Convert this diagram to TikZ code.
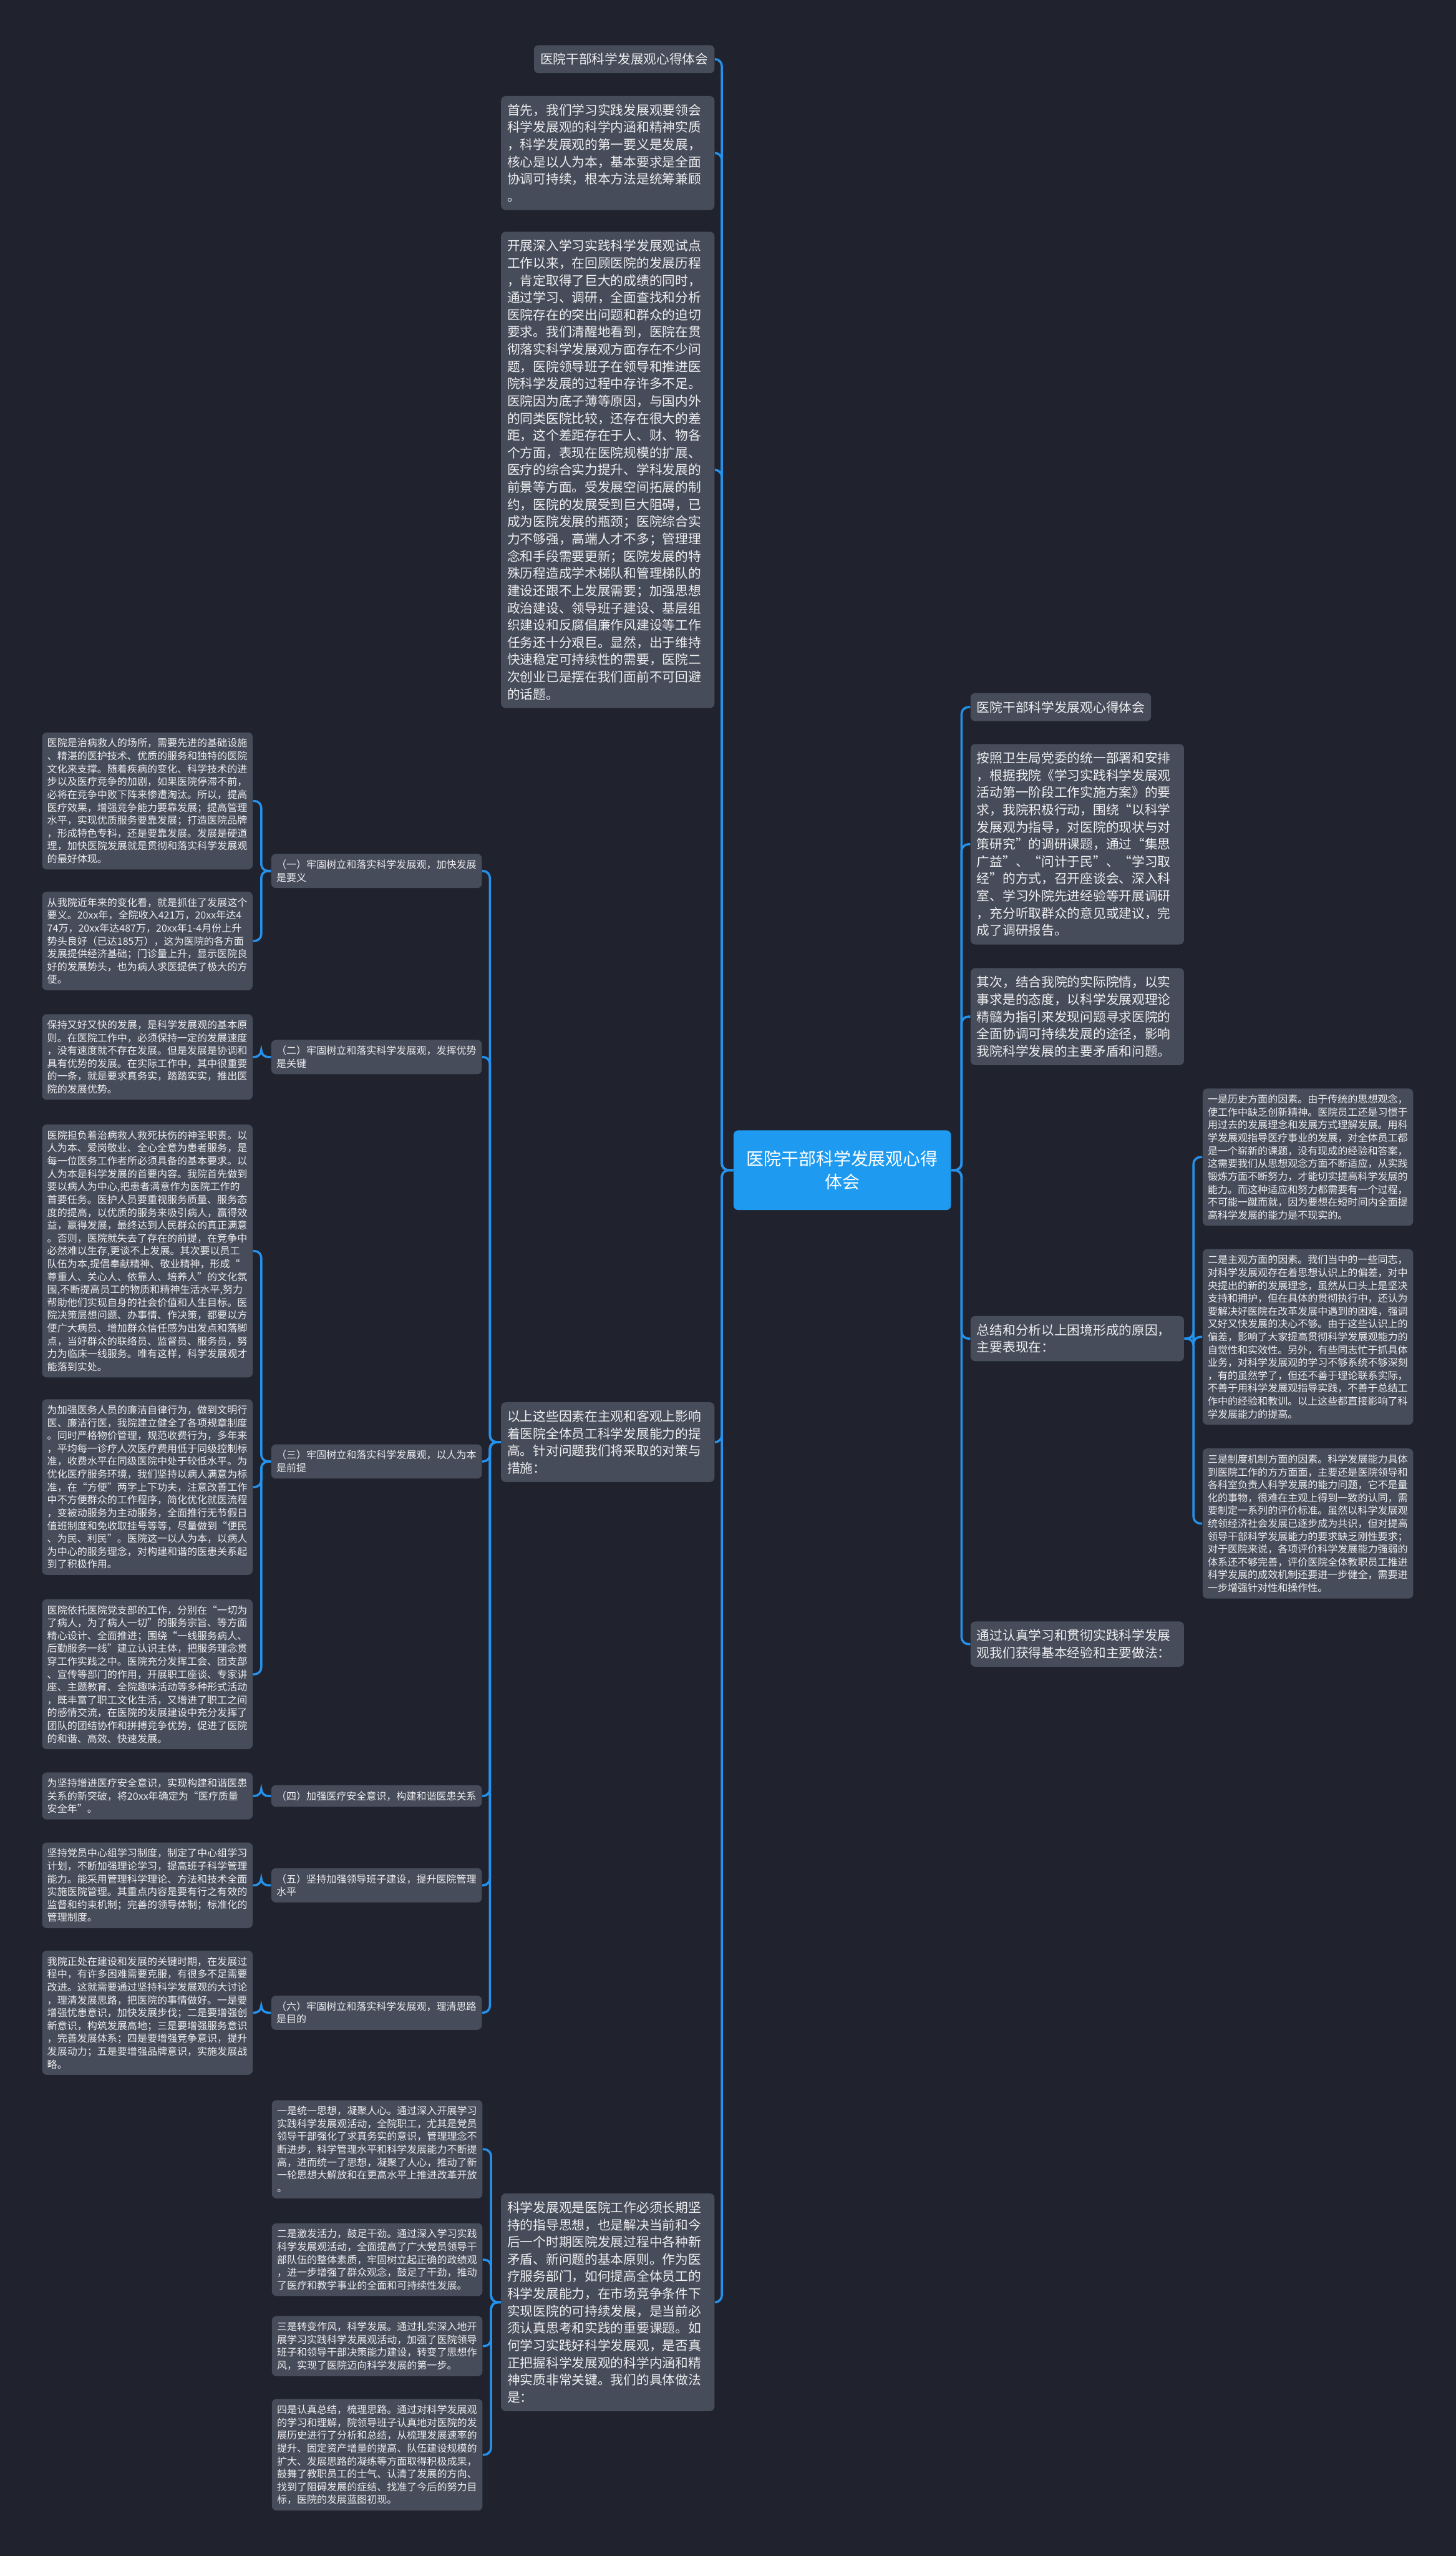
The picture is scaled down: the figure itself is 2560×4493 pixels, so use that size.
\documentclass[tikz,border=0pt]{standalone}
\usepackage{fontspec}
\newfontfamily\cjk{Noto Sans CJK SC}
\definecolor{bgc}{RGB}{32,35,46}
\definecolor{cardc}{RGB}{71,76,90}
\definecolor{txtc}{RGB}{238,238,240}
\definecolor{linkc}{RGB}{36,146,236}
\definecolor{rootc}{RGB}{30,155,240}
\begin{document}
\begin{tikzpicture}[x=0.01cm, y=-0.01cm,
  card/.style={fill=cardc, rounded corners=0.8mm, text=txtc, align=left,
    font=\cjk\fontsize{6.46pt}{8.62pt}\selectfont, inner xsep=0.11cm, inner ysep=0.14cm},
  wide/.style={card, text width=3.53cm},
  note/.style={card, font=\cjk\fontsize{5pt}{6.43pt}\selectfont,
    inner xsep=0.09cm, inner ysep=0.105cm, text width=3.52cm},
  link/.style={draw=linkc, line width=1.1pt, rounded corners=1.2mm}]
  % Background
  \fill[bgc] (0,0) rectangle (2560,4493);
  \useasboundingbox (0,0) rectangle (2560,4493);

  % Root
  \node[fill=rootc, rounded corners=0.8mm, text=white, align=center,
    font=\cjk\fontsize{8.7pt}{11.4pt}\selectfont,
    minimum width=3.82cm, minimum height=1.4cm] (root) at (1481,2057)
    {医院干部科学发展观心得\\体会};

  % Right branch
  \node[card, anchor=west] (rhead) at (1706,1243) {医院干部科学发展观心得体会};
  \node[wide, anchor=west] (rplan) at (1706,1484) {按照卫生局党委的统一部署和安排\\，根据我院《学习实践科学发展观\\活动第一阶段工作实施方案》的要\\求，我院积极行动，围绕“以科学\\发展观为指导，对医院的现状与对\\策研究”的调研课题，通过“集思\\广益”、“问计于民”、“学习取\\经”的方式，召开座谈会、深入科\\室、学习外院先进经验等开展调研\\，充分听取群众的意见或建议，完\\成了调研报告。};
  \node[wide, anchor=west] (rnext) at (1706,1787) {其次，结合我院的实际院情，以实\\事求是的态度，以科学发展观理论\\精髓为指引来发现问题寻求医院的\\全面协调可持续发展的途径，影响\\我院科学发展的主要矛盾和问题。};
  \node[wide, anchor=west] (rsum) at (1706,2353) {总结和分析以上困境形成的原因，\\主要表现在：};
  \node[wide, anchor=west] (rgain) at (1706,2890) {通过认真学习和贯彻实践科学发展\\观我们获得基本经验和主要做法：};

  % Causes
  \node[note, anchor=west] (fhist) at (2114,2034) {一是历史方面的因素。由于传统的思想观念，\\使工作中缺乏创新精神。医院员工还是习惯于\\用过去的发展理念和发展方式理解发展。用科\\学发展观指导医疗事业的发展，对全体员工都\\是一个崭新的课题，没有现成的经验和答案，\\这需要我们从思想观念方面不断适应，从实践\\锻炼方面不断努力，才能切实提高科学发展的\\能力。而这种适应和努力都需要有一个过程，\\不可能一蹴而就，因为要想在短时间内全面提\\高科学发展的能力是不现实的。};
  \node[note, anchor=west] (fsubj) at (2114,2350) {二是主观方面的因素。我们当中的一些同志，\\对科学发展观存在着思想认识上的偏差，对中\\央提出的新的发展理念，虽然从口头上是坚决\\支持和拥护，但在具体的贯彻执行中，还认为\\要解决好医院在改革发展中遇到的困难，强调\\又好又快发展的决心不够。由于这些认识上的\\偏差，影响了大家提高贯彻科学发展观能力的\\自觉性和实效性。另外，有些同志忙于抓具体\\业务，对科学发展观的学习不够系统不够深刻\\，有的虽然学了，但还不善于理论联系实际，\\不善于用科学发展观指导实践，不善于总结工\\作中的经验和教训。以上这些都直接影响了科\\学发展能力的提高。};
  \node[note, anchor=west] (finst) at (2114,2678) {三是制度机制方面的因素。科学发展能力具体\\到医院工作的方方面面，主要还是医院领导和\\各科室负责人科学发展的能力问题，它不是量\\化的事物，很难在主观上得到一致的认同，需\\要制定一系列的评价标准。虽然以科学发展观\\统领经济社会发展已逐步成为共识，但对提高\\领导干部科学发展能力的要求缺乏刚性要求；\\对于医院来说，各项评价科学发展能力强弱的\\体系还不够完善，评价医院全体教职员工推进\\科学发展的成效机制还要进一步健全，需要进\\一步增强针对性和操作性。};

  % Left branch
  \node[card, anchor=east] (lhead) at (1257,104) {医院干部科学发展观心得体会};
  \node[wide, anchor=east] (lfirst) at (1257,269) {首先，我们学习实践发展观要领会\\科学发展观的科学内涵和精神实质\\，科学发展观的第一要义是发展，\\核心是以人为本，基本要求是全面\\协调可持续，根本方法是统筹兼顾\\。};
  \node[wide, anchor=east] (lopen) at (1257,826) {开展深入学习实践科学发展观试点\\工作以来，在回顾医院的发展历程\\，肯定取得了巨大的成绩的同时，\\通过学习、调研，全面查找和分析\\医院存在的突出问题和群众的迫切\\要求。我们清醒地看到，医院在贯\\彻落实科学发展观方面存在不少问\\题，医院领导班子在领导和推进医\\院科学发展的过程中存许多不足。\\医院因为底子薄等原因，与国内外\\的同类医院比较，还存在很大的差\\距，这个差距存在于人、财、物各\\个方面，表现在医院规模的扩展、\\医疗的综合实力提升、学科发展的\\前景等方面。受发展空间拓展的制\\约，医院的发展受到巨大阻碍，已\\成为医院发展的瓶颈；医院综合实\\力不够强，高端人才不多；管理理\\念和手段需要更新；医院发展的特\\殊历程造成学术梯队和管理梯队的\\建设还跟不上发展需要；加强思想\\政治建设、领导班子建设、基层组\\织建设和反腐倡廉作风建设等工作\\任务还十分艰巨。显然，出于维持\\快速稳定可持续性的需要，医院二\\次创业已是摆在我们面前不可回避\\的话题。};
  \node[wide, anchor=east] (lcause) at (1257,2535) {以上这些因素在主观和客观上影响\\着医院全体员工科学发展能力的提\\高。针对问题我们将采取的对策与\\措施：};
  \node[wide, anchor=east] (lwork) at (1257,4047) {科学发展观是医院工作必须长期坚\\持的指导思想，也是解决当前和今\\后一个时期医院发展过程中各种新\\矛盾、新问题的基本原则。作为医\\疗服务部门，如何提高全体员工的\\科学发展能力，在市场竞争条件下\\实现医院的可持续发展，是当前必\\须认真思考和实践的重要课题。如\\何学习实践好科学发展观，是否真\\正把握科学发展观的科学内涵和精\\神实质非常关键。我们的具体做法\\是：};

  % Measures
  \node[note, anchor=east] (k1) at (848,1531) {（一）牢固树立和落实科学发展观，加快发展\\是要义};
  \node[note, anchor=east] (k2) at (848,1858) {（二）牢固树立和落实科学发展观，发挥优势\\是关键};
  \node[note, anchor=east] (k3) at (848,2569) {（三）牢固树立和落实科学发展观，以人为本\\是前提};
  \node[note, anchor=east] (k4) at (848,3157) {（四）加强医疗安全意识，构建和谐医患关系};
  \node[note, anchor=east] (k5) at (848,3314) {（五）坚持加强领导班子建设，提升医院管理\\水平};
  \node[note, anchor=east] (k6) at (848,3538) {（六）牢固树立和落实科学发展观，理清思路\\是目的};

  \node[note, anchor=east] (n1a) at (445,1408) {医院是治病救人的场所，需要先进的基础设施\\、精湛的医护技术、优质的服务和独特的医院\\文化来支撑。随着疾病的变化、科学技术的进\\步以及医疗竞争的加剧，如果医院停滞不前，\\必将在竞争中败下阵来惨遭淘汰。所以，提高\\医疗效果，增强竞争能力要靠发展；提高管理\\水平，实现优质服务要靠发展；打造医院品牌\\，形成特色专科，还是要靠发展。发展是硬道\\理，加快医院发展就是贯彻和落实科学发展观\\的最好体现。};
  \node[note, anchor=east] (n1b) at (445,1654) {从我院近年来的变化看，就是抓住了发展这个\\要义。20xx年，全院收入421万，20xx年达4\\74万，20xx年达487万，20xx年1-4月份上升\\势头良好（已达185万），这为医院的各方面\\发展提供经济基础；门诊量上升，显示医院良\\好的发展势头，也为病人求医提供了极大的方\\便。};
  \node[note, anchor=east] (n2a) at (445,1858) {保持又好又快的发展，是科学发展观的基本原\\则。在医院工作中，必须保持一定的发展速度\\，没有速度就不存在发展。但是发展是协调和\\具有优势的发展。在实际工作中，其中很重要\\的一条，就是要求真务实，踏踏实实，推出医\\院的发展优势。};
  \node[note, anchor=east] (n3a) at (445,2199) {医院担负着治病救人救死扶伤的神圣职责。以\\人为本、爱岗敬业、全心全意为患者服务，是\\每一位医务工作者所必须具备的基本要求。以\\人为本是科学发展的首要内容。我院首先做到\\要以病人为中心,把患者满意作为医院工作的\\首要任务。医护人员要重视服务质量、服务态\\度的提高，以优质的服务来吸引病人，赢得效\\益，赢得发展，最终达到人民群众的真正满意\\。否则，医院就失去了存在的前提，在竞争中\\必然难以生存,更谈不上发展。其次要以员工\\队伍为本,提倡奉献精神、敬业精神，形成“\\尊重人、关心人、依靠人、培养人”的文化氛\\围,不断提高员工的物质和精神生活水平,努力\\帮助他们实现自身的社会价值和人生目标。医\\院决策层想问题、办事情、作决策，都要以方\\便广大病员、增加群众信任感为出发点和落脚\\点，当好群众的联络员、监督员、服务员，努\\力为临床一线服务。唯有这样，科学发展观才\\能落到实处。};
  \node[note, anchor=east] (n3b) at (445,2614) {为加强医务人员的廉洁自律行为，做到文明行\\医、廉洁行医，我院建立健全了各项规章制度\\。同时严格物价管理，规范收费行为，多年来\\，平均每一诊疗人次医疗费用低于同级控制标\\准，收费水平在同级医院中处于较低水平。为\\优化医疗服务环境，我们坚持以病人满意为标\\准，在“方便”两字上下功夫，注意改善工作\\中不方便群众的工作程序，简化优化就医流程\\，变被动服务为主动服务，全面推行无节假日\\值班制度和免收取挂号等等，尽量做到“便民\\、为民、利民”。医院这一以人为本，以病人\\为中心的服务理念，对构建和谐的医患关系起\\到了积极作用。};
  \node[note, anchor=east] (n3c) at (445,2943) {医院依托医院党支部的工作，分别在“一切为\\了病人，为了病人一切”的服务宗旨、等方面\\精心设计、全面推进；围绕“一线服务病人、\\后勤服务一线”建立认识主体，把服务理念贯\\穿工作实践之中。医院充分发挥工会、团支部\\、宣传等部门的作用，开展职工座谈、专家讲\\座、主题教育、全院趣味活动等多种形式活动\\，既丰富了职工文化生活，又增进了职工之间\\的感情交流，在医院的发展建设中充分发挥了\\团队的团结协作和拼搏竞争优势，促进了医院\\的和谐、高效、快速发展。};
  \node[note, anchor=east] (n4a) at (445,3157) {为坚持增进医疗安全意识，实现构建和谐医患\\关系的新突破，将20xx年确定为“医疗质量\\安全年”。};
  \node[note, anchor=east] (n5a) at (445,3314) {坚持党员中心组学习制度，制定了中心组学习\\计划，不断加强理论学习，提高班子科学管理\\能力。能采用管理科学理论、方法和技术全面\\实施医院管理。其重点内容是要有行之有效的\\监督和约束机制；完善的领导体制；标准化的\\管理制度。};
  \node[note, anchor=east] (n6a) at (445,3538) {我院正处在建设和发展的关键时期，在发展过\\程中，有许多困难需要克服，有很多不足需要\\改进。这就需要通过坚持科学发展观的大讨论\\，理清发展思路，把医院的事情做好。一是要\\增强忧患意识，加快发展步伐；二是要增强创\\新意识，构筑发展高地；三是要增强服务意识\\，完善发展体系；四是要增强竞争意识，提升\\发展动力；五是要增强品牌意识，实施发展战\\略。};

  % Practices
  \node[note, anchor=east] (w1) at (849,3778) {一是统一思想，凝聚人心。通过深入开展学习\\实践科学发展观活动，全院职工，尤其是党员\\领导干部强化了求真务实的意识，管理理念不\\断进步，科学管理水平和科学发展能力不断提\\高，进而统一了思想，凝聚了人心，推动了新\\一轮思想大解放和在更高水平上推进改革开放\\。};
  \node[note, anchor=east] (w2) at (849,3972) {二是激发活力，鼓足干劲。通过深入学习实践\\科学发展观活动，全面提高了广大党员领导干\\部队伍的整体素质，牢固树立起正确的政绩观\\，进一步增强了群众观念，鼓足了干劲，推动\\了医疗和教学事业的全面和可持续性发展。};
  \node[note, anchor=east] (w3) at (849,4124) {三是转变作风，科学发展。通过扎实深入地开\\展学习实践科学发展观活动，加强了医院领导\\班子和领导干部决策能力建设，转变了思想作\\风，实现了医院迈向科学发展的第一步。};
  \node[note, anchor=east] (w4) at (849,4315) {四是认真总结，梳理思路。通过对科学发展观\\的学习和理解，院领导班子认真地对医院的发\\展历史进行了分析和总结，从梳理发展速率的\\提升、固定资产增量的提高、队伍建设规模的\\扩大、发展思路的凝练等方面取得积极成果，\\鼓舞了教职员工的士气、认清了发展的方向、\\找到了阻碍发展的症结、找准了今后的努力目\\标，医院的发展蓝图初现。};

  % Links
  \foreach \n in {rhead,rplan,rnext,rsum,rgain}
    \draw[link] (root.east) -- ++(18,0) |- (\n.west);
  \foreach \n in {fhist,fsubj,finst}
    \draw[link] (rsum.east) -- ++(16,0) |- (\n.west);
  \foreach \n in {lhead,lfirst,lopen,lcause,lwork}
    \draw[link] (root.west) -- ++(-20,0) |- (\n.east);
  \foreach \n in {k1,k2,k3,k4,k5,k6}
    \draw[link] (lcause.west) -- ++(-19,0) |- (\n.east);
  \foreach \a/\b in {k1/n1a,k1/n1b,k2/n2a,k3/n3a,k3/n3b,k3/n3c,k4/n4a,k5/n5a,k6/n6a}
    \draw[link] (\a.west) -- ++(-17,0) |- (\b.east);
  \foreach \n in {w1,w2,w3,w4}
    \draw[link] (lwork.west) -- ++(-17,0) |- (\n.east);
\end{tikzpicture}
\end{document}
